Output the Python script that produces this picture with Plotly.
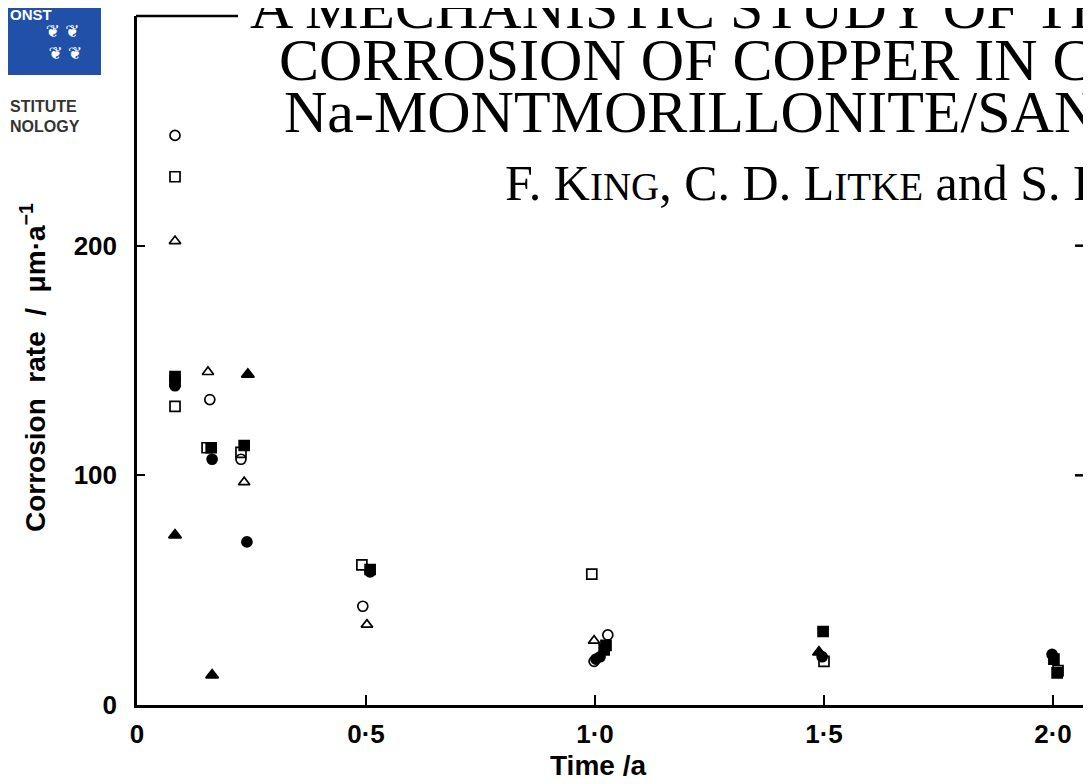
import plotly.graph_objects as go

# ---- data (time in years, corrosion rate in um/a) ----
oc_t = [0.083, 0.159, 0.227, 0.493, 1.028, 0.998]
oc_r = [248, 133, 107, 43, 30.5, 19]
os_t = [0.083, 0.083, 0.153, 0.227, 0.491, 0.993, 1.500, 2.011]
os_r = [230, 130, 112, 110, 61, 57, 19, 15]
ot_t = [0.083, 0.155, 0.234, 0.502, 0.998]
ot_r = [202, 145, 97, 35, 28]
fc_t = [0.083, 0.164, 0.240, 0.509, 1.002, 1.011, 1.496, 1.998]
fc_r = [139, 107, 71, 58, 20, 21, 21, 22]
fs_t = [0.083, 0.083, 0.162, 0.234, 0.509, 1.024, 1.020, 1.498, 2.002, 2.009]
fs_r = [143, 141, 112, 113, 59, 26, 24, 32, 20, 14]
ft_t = [0.083, 0.164, 0.242, 1.489]
ft_r = [74, 13, 144, 23]

x_ticks = [0, 0.5, 1.0, 1.5, 2.0]
x_labels = ["0", "0·5", "1·0", "1·5", "2·0"]
y_ticks = [0, 100, 200, 300]
y_labels = ["0", "100", "200", "300"]
right_ticks = [100, 200]

OFF = 8  # default page body margin
W, H = 1091 - OFF, 784 - 2 * OFF
L, R, T, B = 137 - OFF, 0, 16 - OFF, H - (705 - OFF)
PW, PH = W - L - R, H - T - B


def px(x):
    """window x pixel -> paper x"""
    return (x - OFF - L) / PW


def py(y):
    """window y pixel -> paper y"""
    return (H - B - (y - OFF)) / PH


fig = go.Figure()
series = [
    (oc_t, oc_r, "circle-open", 10),
    (os_t, os_r, "square-open", 10),
    (ot_t, ot_r, "triangle-up-open", 10),
    (fc_t, fc_r, "circle", 10),
    (fs_t, fs_r, "square", 10),
    (ft_t, ft_r, "triangle-up", 11),
]
for t, r, sym, sz in series:
    fig.add_trace(go.Scatter(
        x=t, y=r, mode="markers",
        marker=dict(symbol=sym, size=sz, color="black",
                    line=dict(color="black", width=1.7)),
        showlegend=False, cliponaxis=False))

tickfont = dict(family="Liberation Sans", size=26, color="black", weight="bold")

fig.update_layout(
    width=W, height=H,
    margin=dict(l=L, r=R, t=T, b=B),
    paper_bgcolor="white", plot_bgcolor="white",
    xaxis=dict(range=[0, (1091 - 137) / 458.0], tickvals=x_ticks, ticktext=x_labels,
               showline=True, linecolor="black", linewidth=2.5,
               ticks="inside", ticklen=10, tickwidth=2, tickcolor="black",
               showgrid=False, zeroline=False, tickfont=tickfont,
               ticklabelstandoff=4),
    yaxis=dict(range=[0, 300], tickvals=y_ticks, ticktext=y_labels,
               showline=True, linecolor="black", linewidth=2.5,
               ticks="inside", ticklen=8, tickwidth=2, tickcolor="black",
               showgrid=False, zeroline=False, tickfont=tickfont,
               ticklabelstandoff=12),
)

shapes = [
    # top spine fragment (left of the pasted title block)
    dict(type="line", xref="paper", yref="paper", x0=px(136), x1=px(238),
         y0=py(16), y1=py(16), line=dict(color="black", width=2.5)),
    # logo block
    dict(type="rect", xref="paper", yref="paper", x0=px(8), x1=px(101),
         y0=py(75), y1=py(8), fillcolor="#2150a8", line=dict(width=0),
         layer="above"),
]
# inner ticks of the (off-page) right-hand frame
for v in right_ticks:
    shapes.append(dict(type="line", xref="paper", yref="y", x0=px(1075), x1=px(1083),
                       y0=v, y1=v, line=dict(color="black", width=2.5)))
fig.update_layout(shapes=shapes)

serif = "Liberation Serif"
ann = []
title_lines = [
    ("A MECHANISTIC STUDY OF THE UNIFORM", 248, 8),
    ("CORROSION OF COPPER IN COMPACTED", 277, 60),
    ("Na-MONTMORILLONITE/SAND MIXTURES", 282, 112),
]
for txt, x0, yc in title_lines:
    ann.append(dict(text=txt, x=px(x0), y=py(yc), xref="paper", yref="paper",
                    xanchor="left", yanchor="middle", showarrow=False,
                    font=dict(family=serif, size=60, color="black")))
sc = "<span style='font-size:39px'>%s</span>"
authors = ("F. K" + sc % "ING" + ", C. D. L" + sc % "ITKE" + " and S. R. R" + sc % "YAN")
ann.append(dict(text=authors, x=px(503), y=py(183), xref="paper", yref="paper",
                xanchor="left", yanchor="middle", showarrow=False,
                font=dict(family=serif, size=50, color="black")))

# axis titles
ann.append(dict(text="Corrosion  rate  /  μm·a<sup>−1</sup>", x=px(33), y=py(368),
                xref="paper", yref="paper", textangle=-90, showarrow=False,
                xanchor="center", yanchor="middle",
                font=dict(family="Liberation Sans", size=28, color="black", weight="bold")))
ann.append(dict(text="Time /a", x=px(598), y=py(766), xref="paper", yref="paper",
                showarrow=False, xanchor="center", yanchor="middle",
                font=dict(family="Liberation Sans", size=28, color="black", weight="bold")))

# logo texts
ann.append(dict(text="ONST", x=px(8), y=py(14), xref="paper", yref="paper",
                xanchor="left", yanchor="middle", showarrow=False,
                font=dict(family="Liberation Sans", size=15, color="white", weight="bold")))
ann.append(dict(text="❦ ❦<br> ❦ ❦", x=px(62), y=py(42), xref="paper", yref="paper",
                xanchor="center", yanchor="middle", showarrow=False,
                font=dict(family="DejaVu Sans", size=17, color="white")))
ann.append(dict(text="STITUTE", x=px(8), y=py(106), xref="paper", yref="paper",
                xanchor="left", yanchor="middle", showarrow=False,
                font=dict(family="Liberation Sans", size=16, color="#333333", weight="bold")))
ann.append(dict(text="NOLOGY", x=px(8), y=py(127), xref="paper", yref="paper",
                xanchor="left", yanchor="middle", showarrow=False,
                font=dict(family="Liberation Sans", size=16, color="#333333", weight="bold")))
fig.update_layout(annotations=ann)

fig.write_html("out.html")
